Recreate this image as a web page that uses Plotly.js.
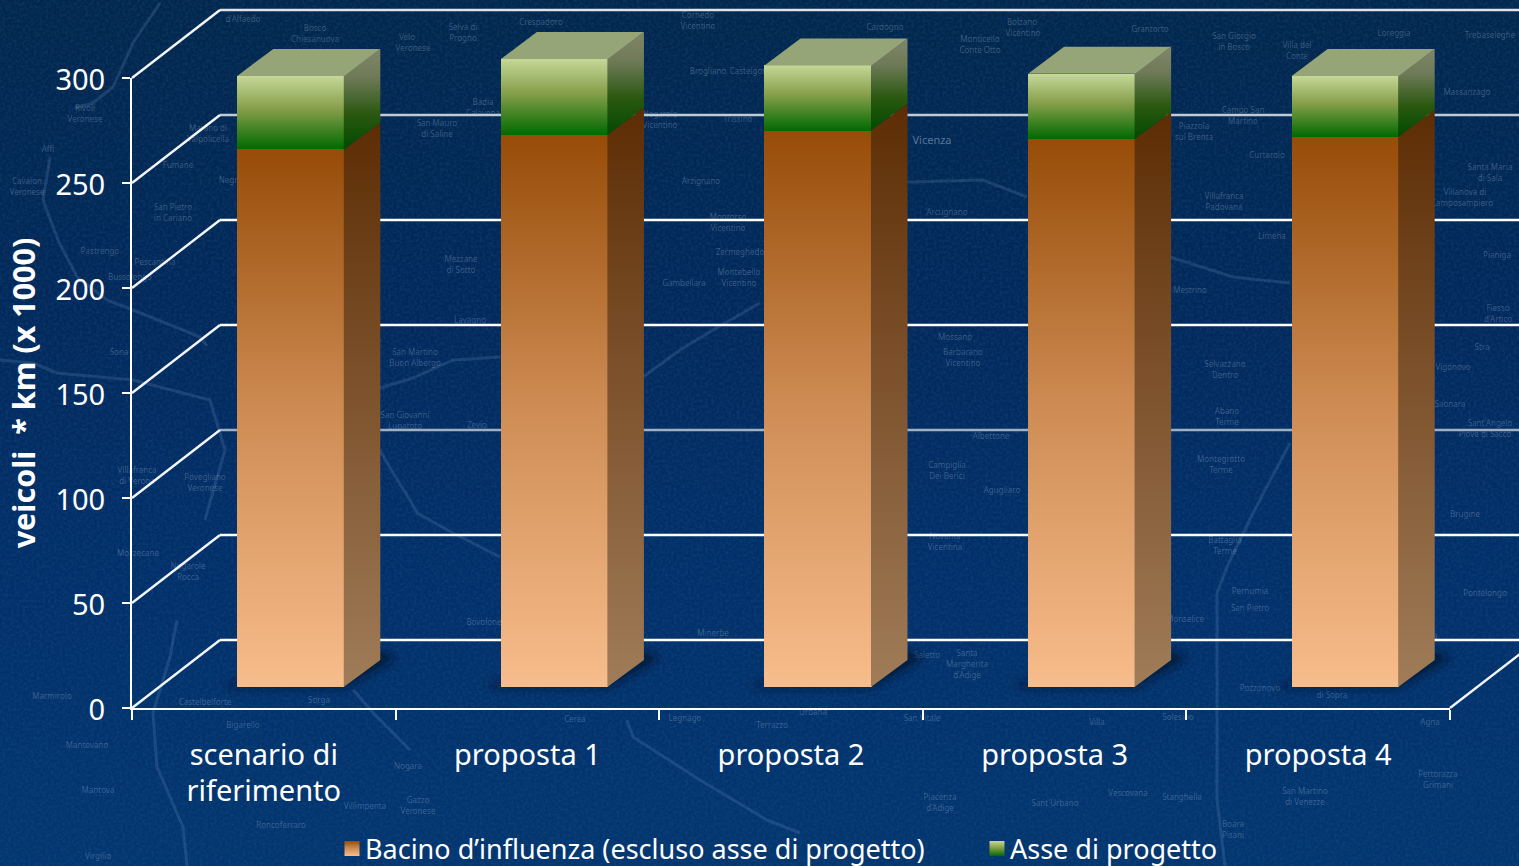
<!DOCTYPE html>
<html lang="it">
<head>
<meta charset="utf-8">
<title>Percorrenze per scenario</title>
<script src="https://cdn.plot.ly/plotly-3.0.1.min.js"></script>
<style>
  html, body { margin: 0; padding: 0; width: 1519px; height: 866px; overflow: hidden; }
  body { background: linear-gradient(180deg, #02264c 0%, #02285a 35%, #022e68 62%, #03356f 100%); position: relative; }
  #mappa { position: absolute; left: 0; top: 0; }
  #grafico { position: absolute; left: 0; top: 0; width: 1519px; height: 866px; }
</style>
</head>
<body>
<svg id="mappa" width="1519" height="866" xmlns="http://www.w3.org/2000/svg"></svg>
<div id="grafico"></div>
<script>
// Valori del grafico (veicoli * km, in migliaia)
const scenari = ['scenario di<br>riferimento', 'proposta 1', 'proposta 2', 'proposta 3', 'proposta 4'];
const bacino = [256, 263, 265, 261, 262];
const asse = [35, 36, 31, 31, 29];
const tickValori = [0, 50, 100, 150, 200, 250, 300];
const coloriGriglia = ['#ffffff', '#ffffff', '#9fb0c4', '#ffffff', '#ffffff', '#c2cad4', '#dfe3e8'];
const nomeBacino = 'Bacino d’influenza (escluso asse di progetto)';
const nomeAsse = 'Asse di progetto';
const titoloY = 'veicoli \u00a0* km (x 1000)';

// Sfondo: carta stradale del Veneto, appena percettibile
const strade = [
  [[160,3],[133,43],[113,87],[93,103],[75,108]],
  [[50,157],[43,200],[58,240],[77,277],[107,300],[133,310],[200,337],[207,346]],
  [[0,360],[33,363],[57,373],[100,377],[133,380],[210,400],[225,450],[205,520]],
  [[380,388],[413,378],[453,360],[500,357]],
  [[643,377],[680,350],[713,330],[760,303]],
  [[907,182],[983,180],[1027,197]],
  [[1170,257],[1233,277],[1290,283]],
  [[1290,443],[1253,513],[1227,567],[1217,593],[1217,800],[1225,866]],
  [[177,620],[170,657],[153,713],[157,767],[183,827],[187,866]],
  [[353,690],[377,717],[410,750]],
  [[627,720],[633,737],[700,780],[767,820],[800,833]],
  [[380,450],[393,473],[410,500],[417,513],[453,533],[500,557]]
];
const localita = [
  ['Erbezzo',310,6],['d\'Alfaedo',243,19],['Bosco',315,28],['Chiesanuova',315,38],['Velo',407,37],['Veronese',413,46],
  ['Selva di',463,27],['Progno',463,36],['Crespadoro',541,22],['Cornedo',698,15],['Vicentino',698,25],['Vicentina',835,6],
  ['Cardogno',885,27],['Bolzano',1022,22],['Vicentino',1023,33],['Monticello',980,39],['Conte Otto',980,48],['Grantorto',1150,29],
  ['San Giorgio',1234,36],['in Bosco',1234,45],['Villa del',1297,45],['Conte',1297,54],['Loreggia',1394,33],['Trebaseleghe',1490,35],
  ['Massanzago',1467,92],['Santa Maria',1490,167],['di Sala',1490,177],['Villanova di',1465,192],['Camposampiero',1462,201],
  ['Caprino',85,60],['Veronese',85,70],['Rivoli',85,108],['Veronese',85,117],['Affi',48,149],['Cavaion',27,181],['Veronese',27,191],
  ['Marano di',208,128],['Valpolicella',208,138],['Fumane',178,165],['Negrar',232,180],['San Pietro',173,207],['in Cariano',173,216],
  ['Sant\'Ambrogio',125,189],['di Valpolicella',125,198],['Pastrengo',100,251],['Pescantina',155,262],['Bussolengo',130,277],
  ['Mezzane',461,259],['di Sotto',461,269],['Badia',483,102],['Calavena',483,111],['San Mauro',437,123],['di Saline',437,132],
  ['Brogliano',708,71],['Castelgomberto',760,71],['Trissino',738,119],['Nogarole',660,114],['Vicentino',660,123],['Arzignano',701,181],
  ['Montorso',728,217],['Vicentino',728,227],['Zermeghedo',740,252],['Montebello',739,272],['Vicentino',739,282],['Gambellara',684,283],
  ['Arcugnano',947,212],['Piazzola',1194,126],['sul Brenta',1194,135],['Campo San',1243,110],['Martino',1243,118],['Curtarolo',1267,155],
  ['Villafranca',1224,196],['Padovana',1224,205],['Limena',1272,236],['Mestrino',1190,290],['Pianiga',1497,255],['Fiesso',1498,308],
  ['d\'Artico',1498,317],['Stra',1482,347],['Vigonovo',1453,367],['Saonara',1450,404],['Sant\'Angelo',1490,423],['Piove di Sacco',1485,433],
  ['Bovolone',484,622],['Minerbe',713,633],['Legnago',685,718],['Cerea',575,719],['Terrazzo',772,725],['Castagnaro',790,827],
  ['Castelbaldo',838,829],['Piacenza',940,797],['d\'Adige',940,806],['Mantova',98,790],['Porto',87,735],['Mantovano',87,745],
  ['Marmirolo',52,696],['Roverbella',57,620],['Villafranca',137,470],['di Verona',137,480],['Castelnuovo',59,325],['del Garda',59,335],
  ['Sona',119,352],['Povegliano',205,477],['Veronese',205,487],['Mozzecane',138,553],['Nogarole',188,566],['Rocca',188,575],
  ['Sorga',319,700],['Castelbelforte',205,702],['Bigarello',243,725],['Nogara',408,766],['Villimpenta',365,806],['Roncoferraro',281,825],
  ['Gazzo',418,800],['Veronese',418,808],['Virgilio',98,856],['San Martino',415,352],['Buon Albergo',415,362],['San Giovanni',405,415],
  ['Lupatoto',405,425],['Zevio',477,425],['Lavagno',470,320],['Barbarano',963,352],['Vicentino',963,362],['Mossano',955,337],
  ['Albettone',991,436],['Campiglia',947,465],['Dei Berici',947,475],['Agugliaro',1002,490],['Noventa',945,536],['Vicentina',945,546],
  ['Santa',967,653],['Margherita',967,661],['d\'Adige',967,670],['Saletto',927,655],['Selvazzano',1225,364],['Dentro',1225,374],
  ['Abano',1227,411],['Terme',1227,421],['Montegrotto',1221,459],['Terme',1221,469],['Battaglia',1225,540],['Terme',1225,549],
  ['Pernumia',1250,591],['San Pietro',1250,608],['Monselice',1185,619],['Candiana',1420,636],['Pontelongo',1485,593],
  ['Brugine',1465,514],['Sant\'Urbano',1055,803],['Vescovana',1128,793],['Stanghella',1182,797],['Boara',1233,824],['Pisani',1233,832],
  ['Villa',1097,722],['Estense',1097,731],['Pettorazza',1438,774],['Grimani',1438,782],['San Martino',1305,791],['di Venezze',1305,800],
  ['Pozzonovo',1260,688],['di Sopra',1332,695],['Urbana',813,712],['San Vitale',922,718],['Agna',1430,722],['Solesino',1178,717]
];
const mappa = document.getElementById('mappa');
const NS = 'http://www.w3.org/2000/svg';
mappa.innerHTML = '<defs><filter id="grana" x="0" y="0" width="100%" height="100%">' +
  '<feTurbulence type="fractalNoise" baseFrequency="0.35" numOctaves="3" seed="7"/>' +
  '<feColorMatrix values="0 0 0 0 0.02 0 0 0 0 0.13 0 0 0 0 0.3 0 0 0 1.6 -0.55"/></filter>' +
  '<filter id="morbido"><feGaussianBlur stdDeviation="0.7"/></filter></defs>' +
  '<rect width="1519" height="866" filter="url(#grana)" opacity="0.3"/>';
strade.forEach(function (p) {
  const l = document.createElementNS(NS, 'polyline');
  l.setAttribute('points', p.map(function (c) { return c.join(','); }).join(' '));
  l.setAttribute('fill', 'none');
  l.setAttribute('stroke', '#6f93bd');
  l.setAttribute('stroke-opacity', '0.22');
  l.setAttribute('stroke-width', '3');
  l.setAttribute('stroke-linejoin', 'round');
  l.setAttribute('filter', 'url(#morbido)');
  mappa.appendChild(l);
});
localita.forEach(function (t) {
  const e = document.createElementNS(NS, 'text');
  e.setAttribute('x', t[1]);
  e.setAttribute('y', t[2] + 3);
  e.setAttribute('text-anchor', 'middle');
  e.setAttribute('font-family', 'Noto Sans, sans-serif');
  e.setAttribute('font-size', '8');
  e.setAttribute('fill', '#a9c0dc');
  e.setAttribute('fill-opacity', '0.32');
  e.textContent = t[0];
  mappa.appendChild(e);
});
const vicenza = document.createElementNS(NS, 'text');
vicenza.setAttribute('x', 932); vicenza.setAttribute('y', 144);
vicenza.setAttribute('text-anchor', 'middle');
vicenza.setAttribute('font-family', 'Noto Sans, sans-serif');
vicenza.setAttribute('font-size', '11');
vicenza.setAttribute('fill', '#a9c0dc'); vicenza.setAttribute('fill-opacity', '0.5');
vicenza.textContent = 'Vicenza';
mappa.appendChild(vicenza);

// Impianto della pagina, in pixel: area degli assi e scala
const pagina = { w: 1519, h: 866 };
const area = { sx: 132, dx: 1450, su: 78, giu: 708 };
const categorieX = [-0.5, 4.5];
const rangeY = [0, 300];
const pxCategoria = (area.dx - area.sx) / 5;
const pxValore = (area.giu - area.su) / 300;

// Gli assi nascosti coprono tutta la pagina con la stessa scala di quelli visibili:
// così la parete di fondo e le colonne possono uscire dall'area degli assi
const rangeXpieno = [categorieX[0] - area.sx / pxCategoria, categorieX[1] + (pagina.w - area.dx) / pxCategoria];
const rangeYpieno = [0 - (pagina.h - area.giu) / pxValore, 300 + area.su / pxValore];

// Prospettiva: tutto in unità degli assi (1 categoria in x, 1 migliaio in y)
const pareteX = 0.3338, pareteY = 32.4;     // distanza della parete di fondo
const pavimentoX = 0.1024, pavimentoY = 10; // arretramento delle colonne
const largBarra = 0.406;
const profX = 0.1366, profY = 12.86;        // profondità delle colonne
const giunto = 0.002;                       // sovrapposizione tra faccia frontale e laterale

const xBarra = scenari.map(function (_, i) { return i + pavimentoX; });
const totali = bacino.map(function (v, i) { return v + asse[i]; });

const tracce = [];

// Gli assi visibili hanno bisogno di una traccia di categoria
tracce.push({
  type: 'scatter', mode: 'lines', x: scenari, y: totali, xaxis: 'x', yaxis: 'y',
  line: { width: 0, color: 'rgba(0,0,0,0)' }, showlegend: false, hoverinfo: 'skip'
});

// Linee di griglia sulla parete di fondo, con i raccordi obliqui verso l'asse
tickValori.forEach(function (v, i) {
  tracce.push({
    type: 'scatter', mode: 'lines', xaxis: 'x2', yaxis: 'y2',
    x: [categorieX[1] + pareteX, categorieX[0] + pareteX],
    y: [v + pareteY, v + pareteY],
    line: { color: coloriGriglia[i], width: 2.4 }, showlegend: false, hoverinfo: 'skip'
  });
  tracce.push({
    type: 'scatter', mode: 'lines', xaxis: 'x2', yaxis: 'y2',
    x: [categorieX[0] + pareteX, categorieX[0]],
    y: [v + pareteY, v],
    line: { color: '#f4f6f8', width: 2.4 }, showlegend: false, hoverinfo: 'skip'
  });
});
tracce.push({
  type: 'scatter', mode: 'lines', xaxis: 'x2', yaxis: 'y2',
  x: [categorieX[1], categorieX[1] + pareteX], y: [0, pareteY],
  line: { color: '#f4f6f8', width: 2.4 }, showlegend: false, hoverinfo: 'skip'
});

// Ombre a terra delle colonne
xBarra.forEach(function (x) {
  const sx = x - largBarra / 2, dx = x + largBarra / 2;
  tracce.push({
    type: 'scatter', mode: 'lines', xaxis: 'x2', yaxis: 'y2', fill: 'toself',
    x: [sx - 0.06, dx, dx + profX + 0.06, dx + profX, sx + 0.1, sx - 0.06],
    y: [pavimentoY, pavimentoY, pavimentoY + profY + 1, pavimentoY + profY + 4, pavimentoY + 6, pavimentoY],
    fillcolor: 'rgba(1,20,50,0.9)', line: { width: 0 }, showlegend: false, hoverinfo: 'skip'
  });
});

// Facce frontali delle colonne
tracce.push({
  type: 'bar', name: nomeBacino, x: xBarra, y: bacino, base: xBarra.map(function () { return pavimentoY; }),
  width: largBarra, xaxis: 'x3', yaxis: 'y3',
  marker: { color: '#c9854f', line: { width: 0 } }, hoverinfo: 'skip'
});
tracce.push({
  type: 'bar', name: nomeAsse, x: xBarra, y: asse, base: bacino.map(function (v) { return v + pavimentoY; }),
  width: largBarra, xaxis: 'x3', yaxis: 'y3',
  marker: { color: '#6f9440', line: { width: 0 } }, hoverinfo: 'skip'
});

// Facce laterali e superiori
function faccia(xs, ys, opts) {
  return Object.assign({
    type: 'scatter', mode: 'lines', xaxis: 'x3', yaxis: 'y3', fill: 'toself',
    x: xs, y: ys, line: { width: 0 }, showlegend: false, hoverinfo: 'skip'
  }, opts);
}
xBarra.forEach(function (x, i) {
  const sx = x - largBarra / 2, dx = x + largBarra / 2;
  const dl = dx - giunto;
  const y0 = pavimentoY, y1 = y0 + bacino[i], y2 = y1 + asse[i];
  tracce.push(faccia(
    [dl, dx + profX, dx + profX, dl, dl],
    [y0, y0 + profY, y1 + profY, y1, y0],
    { fillgradient: { type: 'vertical', colorscale: [[0, '#a07c58'], [1, '#5d2d05']] } }
  ));
  tracce.push(faccia(
    [dl, dx + profX, dx + profX, dl, dl],
    [y1, y1 + profY, y2 + profY, y2, y1],
    { fillgradient: { type: 'vertical', colorscale: [[0, '#004a00'], [0.35, '#2a5810'], [0.72, '#6f7a58'], [1, '#808668']] } }
  ));
  tracce.push(faccia(
    [sx, dx, dx + profX, sx + profX, sx],
    [y2, y2, y2 + profY, y2 + profY, y2],
    { fillcolor: '#95a577' }
  ));
});

const assiNascosti = { visible: false, fixedrange: true, domain: [0, 1] };
const layout = {
  width: pagina.w, height: pagina.h,
  margin: { l: 0, r: 0, t: 0, b: 0, pad: 0, autoexpand: false },
  paper_bgcolor: 'rgba(0,0,0,0)', plot_bgcolor: 'rgba(0,0,0,0)',
  font: { family: 'Noto Sans, sans-serif', color: '#ffffff', size: 29 },
  barmode: 'overlay', bargap: 0,
  showlegend: true,
  legend: {
    orientation: 'h', x: 325 / pagina.w, xanchor: 'left', y: 1 - 849 / pagina.h, yanchor: 'middle',
    bgcolor: 'rgba(0,0,0,0)', borderwidth: 0, font: { size: 27, color: '#ffffff' },
    entrywidth: 600, entrywidthmode: 'pixels', traceorder: 'normal', itemclick: false, itemdoubleclick: false
  },
  xaxis: {
    type: 'category', categoryorder: 'array', categoryarray: scenari, range: categorieX,
    domain: [area.sx / pagina.w, area.dx / pagina.w], anchor: 'y',
    tickson: 'boundaries', ticks: 'outside', ticklen: 10, tickwidth: 2, tickcolor: '#ffffff',
    ticklabelstandoff: 20, showgrid: false, zeroline: false, showline: true, linecolor: '#ffffff', linewidth: 2,
    tickfont: { size: 29, color: '#ffffff' }, fixedrange: true
  },
  yaxis: {
    range: rangeY, tickvals: tickValori, ticks: 'outside', ticklen: 8, tickwidth: 2, tickcolor: '#ffffff',
    domain: [1 - area.giu / pagina.h, 1 - area.su / pagina.h], anchor: 'x',
    ticklabelstandoff: 11, showgrid: false, zeroline: false, showline: true, linecolor: '#ffffff', linewidth: 2,
    tickfont: { size: 29, color: '#ffffff' }, fixedrange: true,
    title: { text: titoloY, font: { size: 30.5, color: '#ffffff', weight: 'bold' }, standoff: 11 }
  },
  xaxis2: Object.assign({ range: rangeXpieno, anchor: 'y2' }, assiNascosti),
  yaxis2: Object.assign({ range: rangeYpieno, anchor: 'x2' }, assiNascosti),
  xaxis3: Object.assign({ range: rangeXpieno, anchor: 'y3' }, assiNascosti),
  yaxis3: Object.assign({ range: rangeYpieno, anchor: 'x3' }, assiNascosti)
};

// Sfumature delle facce frontali, simboli di legenda, ombre
function rifinitura(gd) {
  const svg = gd.querySelector('.main-svg');
  const defs = document.createElementNS(NS, 'defs');
  defs.innerHTML =
    '<linearGradient id="sfumaBacino" x1="0" y1="0" x2="0" y2="1">' +
    '<stop offset="0" stop-color="#974c08"/><stop offset="0.5" stop-color="#cf8d55"/><stop offset="1" stop-color="#f8bd8c"/></linearGradient>' +
    '<linearGradient id="sfumaAsse" x1="0" y1="0" x2="0" y2="1">' +
    '<stop offset="0" stop-color="#c5d898"/><stop offset="0.45" stop-color="#869f4a"/><stop offset="1" stop-color="#006900"/></linearGradient>' +
    '<filter id="sfoca" x="-30%" y="-80%" width="160%" height="260%"><feGaussianBlur stdDeviation="5"/></filter>';
  svg.insertBefore(defs, svg.firstChild);
  const idGrad = ['sfumaBacino', 'sfumaAsse'];
  gd.querySelectorAll('.barlayer .trace.bars').forEach(function (t, i) {
    t.querySelectorAll('.point path').forEach(function (p) { p.style.fill = 'url(#' + idGrad[i] + ')'; });
  });
  gd.querySelectorAll('.legend .traces').forEach(function (t, i) {
    const p = t.querySelector('.legendpoints path');
    if (p) {
      p.style.fill = 'url(#' + idGrad[i] + ')';
      p.setAttribute('transform', 'translate(27,0) scale(1.25)');
    }
  });
  gd.querySelectorAll('.js-fill').forEach(function (f) {
    if ((f.style.fill || '').indexOf('1, 20, 50') >= 0) { f.setAttribute('filter', 'url(#sfoca)'); }
  });
  // Etichette dell'asse y due pixel più in basso, centrate sulle tacche
  gd.querySelectorAll('.ytick text').forEach(function (t) {
    const y = parseFloat(t.getAttribute('y'));
    t.setAttribute('y', y + 2);
    const tr = t.getAttribute('transform');
    if (tr) { t.setAttribute('transform', tr.replace(/,\s*([-\d.]+)\)/, function (_, v) { return ',' + (parseFloat(v) + 0) + ')'; })); }
  });
  // Interlinea più stretta per l'etichetta su due righe
  gd.querySelectorAll('.xtick text').forEach(function (t) {
    const righe = t.querySelectorAll('tspan.line');
    if (righe.length > 1) {
      righe[1].setAttribute('y', parseFloat(righe[1].getAttribute('y')) - 2);
    }
  });
  // I nomi dei luoghi non devono intralciare le scritte del grafico né sovrapporsi tra loro
  const scritte = Array.from(gd.querySelectorAll('.xtick text, .ytick text, .ytitle, .legendtext'))
    .map(function (t) { return t.getBoundingClientRect(); });
  const tenuti = [];
  const urta = function (r, a, m) {
    return r.left < a.right + m && r.right > a.left - m && r.top < a.bottom + m && r.bottom > a.top - m;
  };
  mappa.querySelectorAll('text').forEach(function (t) {
    let r = t.getBoundingClientRect();
    // prova a scendere di qualche pixel prima di rinunciare
    for (let passo = 0; passo < 8 && tenuti.some(function (a) { return urta(r, a, 0); }); passo++) {
      t.setAttribute('y', parseFloat(t.getAttribute('y')) + 1);
      r = t.getBoundingClientRect();
    }
    if (r.left < 1 || r.right > pagina.w - 1 || r.top < 1 || r.bottom > pagina.h - 1 ||
        scritte.some(function (a) { return urta(r, a, 1); }) ||
        tenuti.some(function (a) { return urta(r, a, 0); })) {
      t.remove();
    } else {
      tenuti.push(r);
    }
  });
}

const gd = document.getElementById('grafico');
Plotly.newPlot(gd, tracce, layout, { displayModeBar: false, responsive: false }).then(rifinitura);
</script>
</body>
</html>
